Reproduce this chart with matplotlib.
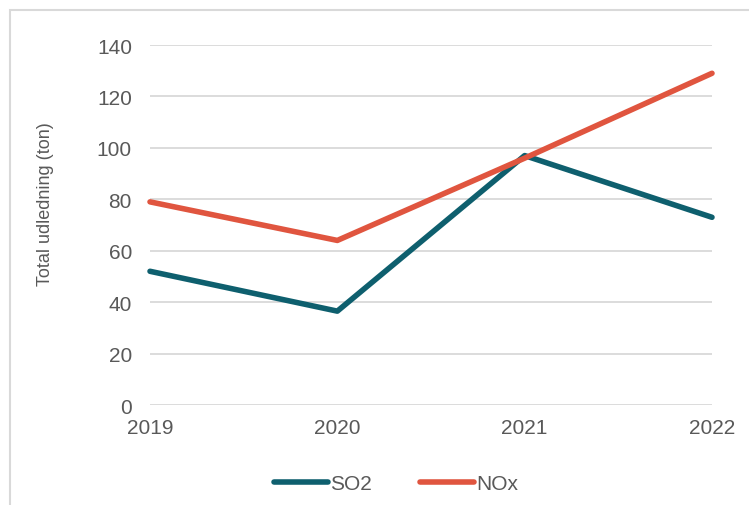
import matplotlib
matplotlib.use("Agg")
import matplotlib.pyplot as plt
from matplotlib.patches import Rectangle

years = [2019, 2020, 2021, 2022]
so2 = [52, 36.5, 97, 73]
nox = [79, 64, 96, 129]
y_ticks = [0, 20, 40, 60, 80, 100, 120, 140]

plt.rcParams["font.family"] = ["Liberation Sans", "DejaVu Sans"]

W, H = 749, 506
fig = plt.figure(figsize=(W / 100, H / 100), dpi=100)

# outer frame (only left and top edges visible in the crop)
fig.patches.append(Rectangle((10 / W, -0.1), 1.2, 1 - 11 / H + 0.1,
                             transform=fig.transFigure, fill=False,
                             edgecolor="#d9d9d9", linewidth=1.5))

ax = fig.add_axes([150 / W, 1 - 406 / H, (712 - 150) / W, (406 - 46) / H])
ax.plot(years, so2, color="#0e5f6e", linewidth=4, label="SO2",
        solid_capstyle="round", clip_on=False, zorder=3)
ax.plot(years, nox, color="#e0553f", linewidth=4, label="NOx",
        solid_capstyle="round", clip_on=False, zorder=3)

ax.set_xlim(2019, 2022)
ax.set_ylim(0, 140)
ax.set_xticks(years)
ax.set_xticklabels([str(y) for y in years])
ax.set_yticks(y_ticks)
ax.grid(axis="y", color="#d9d9d9", linewidth=1.3)
ax.set_axisbelow(True)
for s in ax.spines.values():
    s.set_visible(False)
ax.tick_params(length=0, labelsize=15, labelcolor="#595959")
ax.tick_params(axis="y", pad=13)
ax.tick_params(axis="x", pad=9)

fig.text(45.5 / W, 1 - 204 / H, "Total udledning (ton)", rotation=90,
         ha="center", va="center", fontsize=13, color="#595959")

leg = fig.legend(loc="center", bbox_to_anchor=(396 / W, 1 - 485 / H), ncol=2,
                 frameon=False, fontsize=15, handlelength=2.6,
                 handletextpad=0.12, columnspacing=2.3)
for t in leg.get_texts():
    t.set_color("#595959")
for h in leg.get_lines():
    h.set_solid_capstyle("round")

fig.savefig("out.png", dpi=100)
